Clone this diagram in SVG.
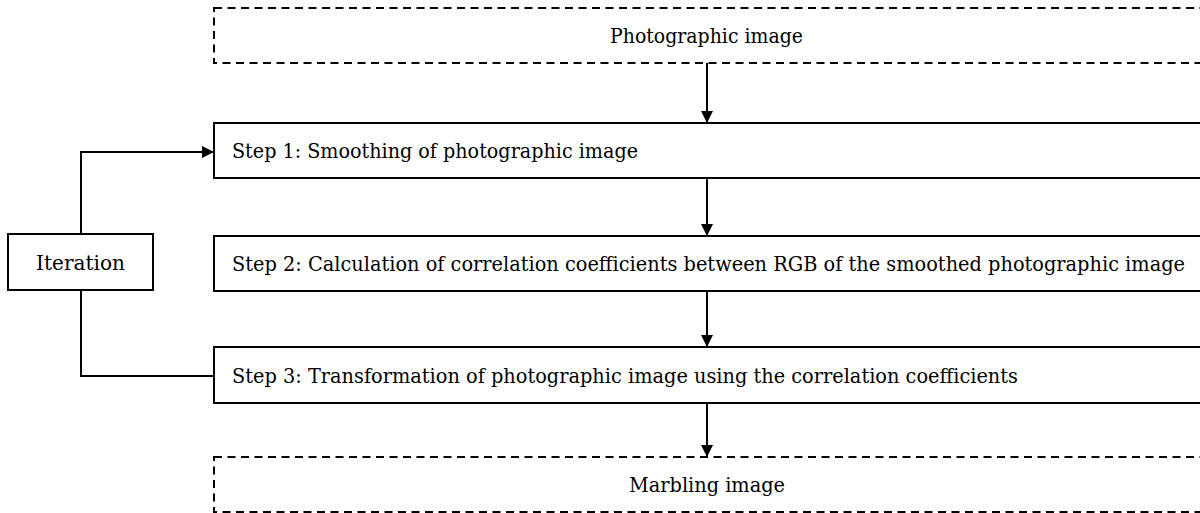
<svg xmlns="http://www.w3.org/2000/svg" width="1200" height="513" viewBox="0 0 1200 513">
  <style>
    .box { fill: #fff; stroke: #000; stroke-width: 2; }
    .io { fill: #fff; stroke: #000; stroke-width: 2; stroke-dasharray: 8 5.5; }
    .lbl { font-family: "DejaVu Serif", "Liberation Serif", serif; font-size: 20px; fill: #000; }
    .wire { fill: none; stroke: #000; stroke-width: 2; }
  </style>
  <defs>
    <marker id="arrow" viewBox="0 0 12 12" refX="12" refY="6" markerWidth="12" markerHeight="12" markerUnits="userSpaceOnUse" orient="auto">
      <path d="M0,0 L12,6 L0,12 Z" fill="#000"/>
    </marker>
  </defs>
  <rect width="1200" height="513" fill="#fff"/>

  <g id="connectors">
    <line class="wire" x1="707" y1="63" x2="707" y2="123" marker-end="url(#arrow)"/>
    <line class="wire" x1="707" y1="178" x2="707" y2="236" marker-end="url(#arrow)"/>
    <line class="wire" x1="707" y1="291" x2="707" y2="347" marker-end="url(#arrow)"/>
    <line class="wire" x1="707" y1="403" x2="707" y2="457" marker-end="url(#arrow)"/>
    <polyline class="wire" points="81,234 81,152 214,152" marker-end="url(#arrow)"/>
    <polyline class="wire" points="81,290 81,376 214,376"/>
  </g>

  <g id="photographic-image">
    <rect class="io" x="214" y="8" width="1000" height="55"/>
    <text class="lbl" x="610" y="43" textLength="193" lengthAdjust="spacingAndGlyphs">Photographic image</text>
  </g>
  <g id="step1">
    <rect class="box" x="214" y="123" width="1000" height="55"/>
    <text class="lbl" x="232" y="158" textLength="406" lengthAdjust="spacingAndGlyphs">Step 1: Smoothing of photographic image</text>
  </g>
  <g id="step2">
    <rect class="box" x="214" y="236" width="1000" height="55"/>
    <text class="lbl" x="232" y="271" textLength="953" lengthAdjust="spacingAndGlyphs">Step 2: Calculation of correlation coefficients between RGB of the smoothed photographic image</text>
  </g>
  <g id="step3">
    <rect class="box" x="214" y="347" width="1000" height="56"/>
    <text class="lbl" x="232" y="383" textLength="786" lengthAdjust="spacingAndGlyphs">Step 3: Transformation of photographic image using the correlation coefficients</text>
  </g>
  <g id="marbling-image">
    <rect class="io" x="214" y="457" width="1000" height="55"/>
    <text class="lbl" x="629" y="492" textLength="156" lengthAdjust="spacingAndGlyphs">Marbling image</text>
  </g>
  <g id="iteration">
    <rect class="box" x="8" y="234" width="145" height="56"/>
    <text class="lbl" x="36" y="270" textLength="89" lengthAdjust="spacingAndGlyphs">Iteration</text>
  </g>
</svg>
